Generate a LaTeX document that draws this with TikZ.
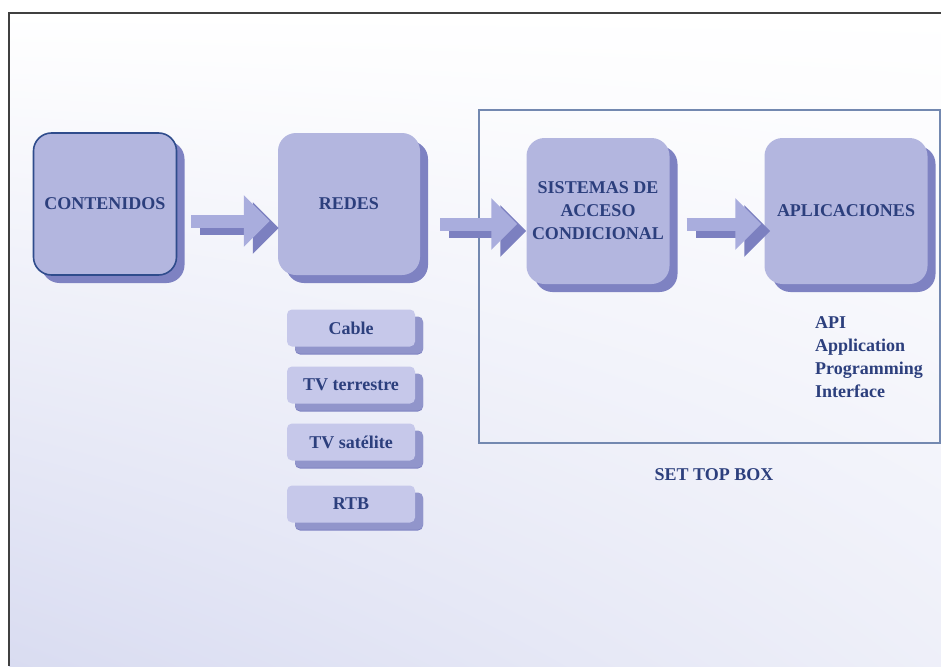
\documentclass[tikz,border=0pt]{standalone}
\usepackage{fontspec}
\setmainfont{Liberation Serif}
\usetikzlibrary{positioning,shadows,shadings,arrows.meta}
\definecolor{boxfill}{HTML}{B3B6DF}
\definecolor{boxshade}{HTML}{7E82C2}
\definecolor{smallfill}{HTML}{C6C8EA}
\definecolor{textblue}{HTML}{2C3F7D}
\definecolor{edgeblue}{HTML}{2F4C8C}
\definecolor{framegray}{HTML}{7388B0}
\definecolor{paleback}{HTML}{D9DCF1}
\definecolor{arrowlight}{HTML}{A9ADDD}
\definecolor{arrowdark}{HTML}{7C80C0}
\tikzset{%
  every block/.style={
    rectangle,
    rounded corners=18pt,
    fill=boxfill,
    text=textblue,
    font=\fontsize{18}{23}\selectfont\bfseries,
    align=center,
    inner sep=2pt,
    drop shadow={shadow xshift=8pt, shadow yshift=-8pt, fill=boxshade, opacity=1}
  },
  block contenidos/.style={
    draw=edgeblue,
    line width=1.6pt
  },
  small block/.style={
    every block,
    rounded corners=5pt,
    fill=smallfill,
    minimum width=128pt,
    minimum height=37pt,
    drop shadow={shadow xshift=8pt, shadow yshift=-7pt, fill=boxshade!85, opacity=1}
  },
  flow/.style={
    line width=13pt,
    arrowlight,
    -{Triangle[length=26pt,width=50pt]}
  },
  flow shadow/.style={
    flow,
    arrowdark,
    transform canvas={shift={(9pt,-7pt)}}
  },
  label text/.style={
    text=textblue,
    font=\fontsize{18}{23}\selectfont\bfseries
  },
}

\begin{document}
\begin{tikzpicture}[x=1pt, y=-1pt]

            \useasboundingbox (0,0) rectangle (941,666);

            % Background and page frame
            \fill[white] (0,0) rectangle (941,666);
            \shade[upper left=white, upper right=white, lower left=paleback, lower right=white!55!paleback]
              (9,13) rectangle (941,666);
            \draw[black!75, line width=1.2pt] (9,666) -- (9,13) -- (941,13);

            % Set top box frame
            \draw[framegray, line width=1.3pt] (479,110) rectangle (940,443);
            \node [label text] (stb) at (714,475) {SET TOP BOX};

            % Main blocks
            \node [every block, block contenidos, minimum width=143pt, minimum height=142pt] (contenidos) at (105,204) {CONTENIDOS};
            \node [every block, minimum width=142pt, minimum height=142pt] (redes) at (349,204) {REDES};
            \node [every block, minimum width=143pt, minimum height=146pt] (sistemas) at (598,211) {SISTEMAS DE\\ACCESO\\CONDICIONAL};
            \node [every block, minimum width=163pt, minimum height=146pt] (aplicaciones) at (846,211) {APLICACIONES};

            % Networks below REDES
            \foreach \m/\l/\y in {cable/Cable/328, terrestre/TV terrestre/385, satelite/TV satélite/442, rtb/RTB/504}
              \node [small block] (red-\m) at (351,\y) {\l};

            % Text below APLICACIONES
            \node [label text, align=left, anchor=north west, inner sep=0pt] (api) at (815,316)
              {API\\Application\\Programming\\Interface};

            % Arrows between blocks
            \foreach \a/\b/\s/\e/\d in {contenidos/redes/14/8/-17, redes/sistemas/20/9/-20, sistemas/aplicaciones/17/3/-13}
              {
                \draw [flow shadow, shorten <=\s pt, shorten >=\e pt] ([yshift=\d pt]\a.east) -- ([yshift=\d pt]\a.east -| \b.west);
                \draw [flow, shorten <=\s pt, shorten >=\e pt] ([yshift=\d pt]\a.east) -- ([yshift=\d pt]\a.east -| \b.west);
              }

\end{tikzpicture}
\end{document}
